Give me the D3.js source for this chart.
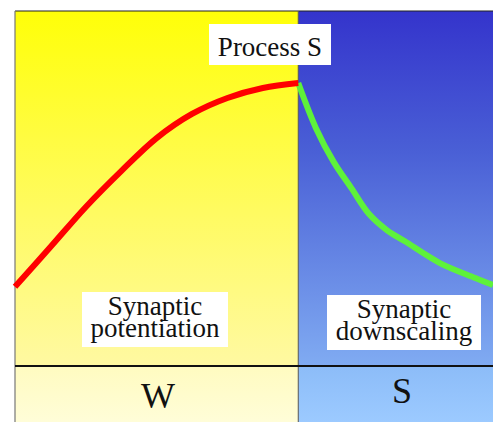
<!DOCTYPE html>
<html lang="en">
  <head>
    <meta charset="UTF-8" />
    <title>Process S</title>
    <script src="https://d3js.org/d3.v7.min.js"></script>
    <style>
      body {
        margin: 0;
        padding: 0;
        background: #ffffff;
        overflow: hidden;
      }
    </style>
  </head>
  <body>
    <svg id="chart" width="493" height="422"></svg>

    <script>
      // hours since wake, and Process S level (0 = floor line, 1 = top)
      var wakeHours = [0, 2, 4, 6, 8, 10, 12, 14, 16];
      var wakeS = [0.223, 0.335, 0.448, 0.549, 0.642, 0.71, 0.755, 0.783, 0.797];

      var sleepHours = [16, 17, 18, 19, 20, 21, 22, 24, 26, 27];
      var sleepS = [0.797, 0.67, 0.575, 0.501, 0.428, 0.383, 0.352, 0.29, 0.248, 0.228];

      var phases = ["W", "S"];
      var phaseStart = [0, 16];
      var phaseEnd = [16, 27];
      var phaseLabels = [
        ["Synaptic", "potentiation"],
        ["Synaptic", "downscaling"],
      ];
      var title = "Process S";

      var serif = "'Liberation Serif', 'Times New Roman', Times, 'DejaVu Serif', serif";

      var svg = d3.select("#chart");

      var x = d3.scaleLinear().domain([0, 27]).range([15, 493]);
      var y = d3.scaleLinear().domain([0, 1]).range([366, 11]);
      var bandBottom = 422;

      // gradients for the panels
      var defs = svg.append("defs");
      function grad(id, stops) {
        var g = defs
          .append("linearGradient")
          .attr("id", id)
          .attr("x1", 0)
          .attr("y1", 0)
          .attr("x2", 0)
          .attr("y2", 1);
        stops.forEach(function (s) {
          g.append("stop").attr("offset", s[0]).attr("stop-color", s[1]);
        });
      }
      grad("wTop", [["0%", "#ffff08"], ["35%", "#fffc40"], ["100%", "#fff9a2"]]);
      grad("sTop", [["0%", "#3434cc"], ["40%", "#4a60d6"], ["100%", "#80abf2"]]);
      grad("wBot", [["0%", "#fffbc0"], ["100%", "#fffdd8"]]);
      grad("sBot", [["0%", "#8cbcf8"], ["100%", "#9ccaff"]]);

      var topFill = ["url(#wTop)", "url(#sTop)"];
      var botFill = ["url(#wBot)", "url(#sBot)"];

      phases.forEach(function (p, i) {
        svg
          .append("rect")
          .attr("x", x(phaseStart[i]))
          .attr("y", y(1))
          .attr("width", x(phaseEnd[i]) - x(phaseStart[i]))
          .attr("height", y(0) - y(1))
          .attr("fill", topFill[i]);
        svg
          .append("rect")
          .attr("x", x(phaseStart[i]))
          .attr("y", y(0))
          .attr("width", x(phaseEnd[i]) - x(phaseStart[i]))
          .attr("height", bandBottom - y(0))
          .attr("fill", botFill[i]);
      });

      // frame lines
      svg
        .append("line")
        .attr("x1", x(0))
        .attr("x2", x(27))
        .attr("y1", y(1))
        .attr("y2", y(1))
        .attr("stroke", "#222")
        .attr("stroke-width", 1.2);
      svg
        .append("line")
        .attr("x1", x(0))
        .attr("x2", x(0))
        .attr("y1", y(1))
        .attr("y2", bandBottom)
        .attr("stroke", "#777")
        .attr("stroke-width", 1.2);
      svg
        .append("line")
        .attr("x1", x(16))
        .attr("x2", x(16))
        .attr("y1", y(1))
        .attr("y2", bandBottom)
        .attr("stroke", "#555")
        .attr("stroke-width", 1);
      svg
        .append("line")
        .attr("x1", x(0))
        .attr("x2", x(27))
        .attr("y1", y(0))
        .attr("y2", y(0))
        .attr("stroke", "#111")
        .attr("stroke-width", 2);

      // curves
      var line = d3
        .line()
        .x(function (d) {
          return x(d[0]);
        })
        .y(function (d) {
          return y(d[1]);
        })
        .curve(d3.curveCatmullRom.alpha(0.5));

      svg
        .append("path")
        .attr("d", line(d3.zip(sleepHours, sleepS)))
        .attr("fill", "none")
        .attr("stroke", "#5ef23a")
        .attr("stroke-width", 6);

      svg
        .append("path")
        .attr("d", line(d3.zip(wakeHours, wakeS)))
        .attr("fill", "none")
        .attr("stroke", "#ff0000")
        .attr("stroke-width", 6);

      function label(tx, ty, size, str) {
        return svg
          .append("text")
          .attr("x", tx)
          .attr("y", ty)
          .attr("text-anchor", "middle")
          .attr("font-size", size)
          .attr("font-family", serif)
          .style("font-family", serif)
          .attr("fill", "#111")
          .text(str);
      }

      // label boxes
      svg
        .append("rect")
        .attr("x", 209)
        .attr("y", 24)
        .attr("width", 122)
        .attr("height", 41)
        .attr("fill", "#fff");
      label(270, 56, 27, title);

      var boxX = [82, 327];
      var boxY = [292, 295];
      var boxW = [146, 154];
      phaseLabels.forEach(function (lines, i) {
        var cx = boxX[i] + boxW[i] / 2;
        svg
          .append("rect")
          .attr("x", boxX[i])
          .attr("y", boxY[i])
          .attr("width", boxW[i])
          .attr("height", 55)
          .attr("fill", "#fff");
        lines.forEach(function (t, j) {
          label(cx, boxY[i] + 23 + j * 22, 27, t);
        });
      });

      // phase letters
      phases.forEach(function (p, i) {
        label(i === 0 ? 158 : 402, i === 0 ? 408 : 403, 36, p);
      });
    </script>
  </body>
</html>
